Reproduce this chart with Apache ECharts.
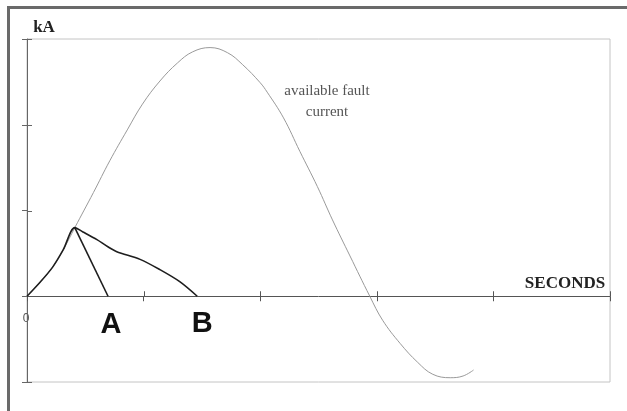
<!DOCTYPE html>
<html>
<head>
<meta charset="utf-8">
<script src="https://cdn.jsdelivr.net/npm/echarts@6/dist/echarts.min.js"></script>
<style>
    html, body { margin: 0; padding: 0; background: #fff; }
    #chart { width: 627px; height: 411px; }
</style>
</head>
<body>
<div id="chart"></div>
<script>
    // values: [seconds, kA]
    var faultCurrent = [
        [0, 0], [0.11, 0.16], [0.22, 0.34], [0.31, 0.54], [0.41, 0.80],
        [0.57, 1.21], [0.71, 1.58], [0.86, 1.94], [0.99, 2.24], [1.14, 2.51],
        [1.29, 2.72], [1.42, 2.85], [1.57, 2.90], [1.72, 2.84], [1.85, 2.70],
        [2.00, 2.49], [2.06, 2.38], [2.20, 2.08], [2.34, 1.69], [2.49, 1.28],
        [2.62, 0.89], [2.77, 0.47], [2.94, 0], [3.05, -0.28], [3.20, -0.55],
        [3.35, -0.77], [3.48, -0.91], [3.63, -0.95], [3.74, -0.93], [3.83, -0.86]
    ];
    // let-through current of breaker B (rise, then decay to zero)
    var letThroughB = [
        [0, 0], [0.11, 0.16], [0.22, 0.34], [0.31, 0.54], [0.41, 0.80],
        [0.48, 0.75], [0.60, 0.66], [0.69, 0.58], [0.77, 0.52], [0.97, 0.43],
        [1.14, 0.31], [1.31, 0.17], [1.46, 0]
    ];
    // let-through current of breaker A
    var letThroughA = [[0.41, 0.80], [0.695, 0]];
    var xTicks = [1, 2, 3, 4, 5];
    var yTicks = [-1, 1, 2, 3];
    var originLabel = '0';

    var chart = echarts.init(document.getElementById('chart'));

    var option = {
        animation: false,
        backgroundColor: '#fff',
        grid: {
            left: 27, top: 39, right: 17, bottom: 29,
            show: true, borderColor: '#c4c4c4', borderWidth: 1
        },
        xAxis: {
            type: 'value', min: 0, max: 5, interval: 1,
            axisLine: {onZero: true, lineStyle: {color: '#555', width: 1}},
            axisTick: {show: true, length: 5, lineStyle: {color: '#555'}},
            axisLabel: {show: false},
            splitLine: {show: false}
        },
        yAxis: {
            type: 'value', min: -1, max: 3, interval: 1,
            axisLine: {show: true, onZero: false, lineStyle: {color: '#666', width: 1}},
            axisTick: {show: true, length: 5, lineStyle: {color: '#666'}},
            axisLabel: {show: false},
            splitLine: {show: false}
        },
        series: [
            {
                name: 'available fault current',
                type: 'line',
                data: faultCurrent,
                smooth: 0.4,
                showSymbol: false,
                lineStyle: {color: '#9a9a9a', width: 1}
            },
            {
                name: 'B',
                type: 'line',
                data: letThroughB,
                smooth: 0.3,
                showSymbol: false,
                lineStyle: {color: '#1e1e1e', width: 1.6}
            },
            {
                name: 'A',
                type: 'line',
                data: letThroughA,
                showSymbol: false,
                lineStyle: {color: '#1e1e1e', width: 1.6}
            }
        ]
    };
    chart.setOption(option);

    var toPx = function (p) { return chart.convertToPixel({gridIndex: 0}, p); };

    // inner half of the ticks, so they cross the axes like in the picture
    var innerTicks = [];
    xTicks.forEach(function (t) {
        var p = toPx([t, 0]);
        innerTicks.push({
            type: 'line', silent: true,
            shape: {x1: Math.round(p[0]) + 0.5, y1: p[1], x2: Math.round(p[0]) + 0.5, y2: p[1] - 5},
            style: {stroke: '#555', lineWidth: 1}
        });
    });
    yTicks.forEach(function (t) {
        var p = toPx([0, t]);
        innerTicks.push({
            type: 'line', silent: true,
            shape: {x1: p[0], y1: Math.round(p[1]) + 0.5, x2: p[0] + 5, y2: Math.round(p[1]) + 0.5},
            style: {stroke: '#666', lineWidth: 1}
        });
    });

    var origin = toPx([0, 0]);
    var endA = toPx(letThroughA[letThroughA.length - 1]);
    var endB = toPx(letThroughB[letThroughB.length - 1]);
    var letterStyle = {
        fontFamily: 'Liberation Sans', fontWeight: 'bold', fontSize: 29,
        fill: '#111', align: 'center', verticalAlign: 'middle'
    };

    chart.setOption({
        graphic: innerTicks.concat([
            {
                type: 'polyline', silent: true,
                shape: {points: [[8.5, 411], [8.5, 7.5], [627, 7.5]]},
                style: {stroke: '#6a6a6a', lineWidth: 3, fill: null}
            },
            {
                type: 'text', x: origin[0] - 1, y: origin[1] + 22,
                style: {text: originLabel, fontFamily: 'Liberation Sans', fontSize: 12,
                    fill: '#555', align: 'center', verticalAlign: 'middle'}
            },
            {
                type: 'text', x: 44, y: 28,
                style: {text: 'kA', fontFamily: 'Liberation Serif', fontWeight: 'bold', fontSize: 17,
                    fill: '#222', align: 'center', verticalAlign: 'middle'}
            },
            {
                type: 'text', x: 565, y: 284,
                style: {text: 'SECONDS', fontFamily: 'Liberation Serif', fontWeight: 'bold', fontSize: 17,
                    fill: '#222', align: 'center', verticalAlign: 'middle'}
            },
            {
                type: 'text', x: 327, y: 102,
                style: {text: 'available fault\ncurrent', fontFamily: 'Liberation Serif', fontSize: 15,
                    lineHeight: 21, fill: '#555', align: 'center', verticalAlign: 'middle'}
            },
            {
                type: 'text', x: endA[0] + 3, y: endA[1] + 29,
                style: Object.assign({text: 'A'}, letterStyle)
            },
            {
                type: 'text', x: endB[0] + 5, y: endB[1] + 28,
                style: Object.assign({text: 'B'}, letterStyle)
            }
        ])
    });
</script>
</body>
</html>
